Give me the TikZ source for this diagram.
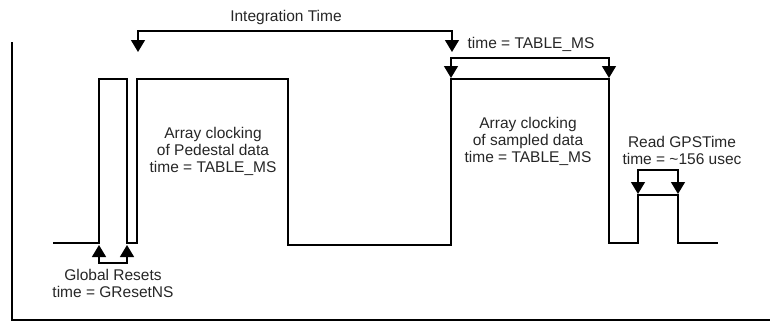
\documentclass[tikz,border=0pt]{standalone}
\usepackage{fontspec}
\setmainfont{Liberation Sans}
\usetikzlibrary{arrows.meta}
\begin{document}
\begin{tikzpicture}[x=1pt,y=-1pt,
  wave/.style={line width=1.3pt, line join=miter},
  brk/.style={line width=1.4pt, {Triangle[width=14pt,length=12pt]}-{Triangle[width=14pt,length=12pt]}},
  lbl/.style={align=center, font=\fontsize{15.5}{17}\selectfont, text=black!85, inner sep=0pt}]
\useasboundingbox (0,0) rectangle (770,322);
% frame
\coordinate (ftop) at (12,42);
\coordinate (fcorner) at (12,320);
\coordinate (fend) at (770,320);
\draw[line width=2.2pt] (ftop) -- (fcorner) -- (fend);
% waveform
\coordinate (w0) at (53,243);
\coordinate (p1l) at (99,243);
\coordinate (p1r) at (127,243);
\coordinate (p2l) at (137,243);
\coordinate (p2r) at (288,245);
\coordinate (p3l) at (451,245);
\coordinate (p3r) at (609,243);
\coordinate (p4l) at (638,243);
\coordinate (p4r) at (678,243);
\coordinate (w9) at (718,243);
\draw[wave] (w0) -- (p1l) -- (99,79) -- (127,79) -- (p1r) -- (p2l) -- (137,79) -- (288,79)
  -- (p2r) -- (p3l) -- (451,79) -- (609,79) -- (p3r) -- (p4l) -- (638,195) -- (678,195)
  -- (p4r) -- (w9);
% Integration time bracket
\coordinate (it1) at (138,52);
\coordinate (it2) at (452,52);
\draw[brk] (it1) -- (138,31) -- (452,31) -- (it2);
\node[lbl] (itl) at (286,17) {Integration Time};
% TABLE_MS bracket
\coordinate (tm1) at (451,78);
\coordinate (tm2) at (609,78);
\draw[brk] (tm1) -- (451,58) -- (609,58) -- (tm2);
\node[lbl] (tml) at (531,44) {time = TABLE\_MS};
% Global resets bracket
\coordinate (gr1) at (99,245);
\coordinate (gr2) at (127,245);
\draw[brk] (gr1) -- (99,263) -- (127,263) -- (gr2);
\node[lbl] (grl) at (113,283) {Global Resets\\time = GResetNS};
% GPS bracket
\coordinate (gp1) at (638,194);
\coordinate (gp2) at (678,194);
\draw[brk] (gp1) -- (638,170) -- (678,170) -- (gp2);
\node[lbl] (gpl) at (682,150) {Read GPSTime\\time = \char"7E 156 usec};
% texts in pulses
\node[lbl] (a1) at (213,151) {Array clocking\\of Pedestal data\\time = TABLE\_MS};
\node[lbl] (a2) at (528,141) {Array clocking\\of sampled data\\time = TABLE\_MS};
\end{tikzpicture}
\end{document}
